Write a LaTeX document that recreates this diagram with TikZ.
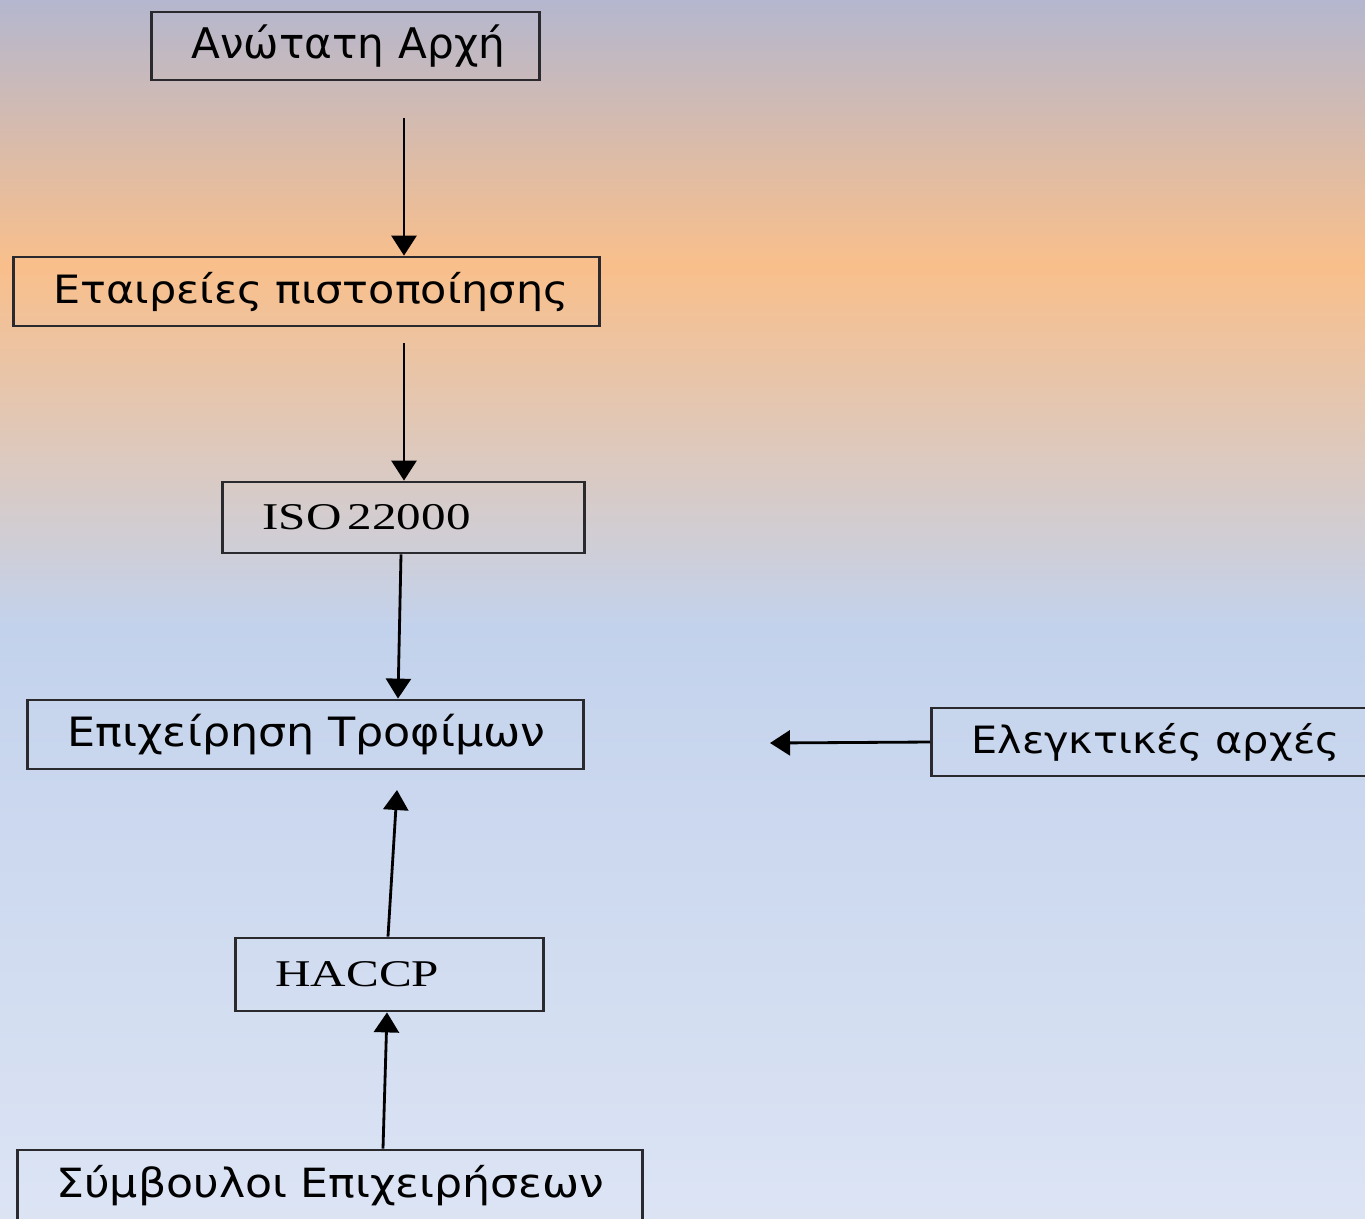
\documentclass[tikz,border=0pt]{standalone}
\usepackage{fontspec}
\setmainfont{DejaVu Sans}
\newfontfamily\widesans[FakeStretch=1.1]{DejaVu Sans}
\newfontfamily\widetimes[FakeStretch=1.3]{Liberation Serif}
\usepackage{tikz}
\usetikzlibrary{arrows.meta, positioning, calc}
\definecolor{bgtop}{HTML}{B4B7CF}
\definecolor{bgorange}{HTML}{F9BF8B}
\definecolor{bgblue}{HTML}{C3D2EC}
\definecolor{bgbot}{HTML}{DCE4F4}
\definecolor{edge}{HTML}{2A2A2E}
\pgfdeclareverticalshading{skybg}{100bp}{color(0bp)=(bgbot); color(25bp)=(bgbot);
  color(49.3bp)=(bgblue); color(64.1bp)=(bgorange); color(75bp)=(bgtop); color(100bp)=(bgtop)}
\tikzset{
  box/.style={draw=edge, line width=1.6pt, anchor=west, align=left, inner xsep=0.8cm, inner ysep=0pt,
    execute at begin node={\hbox\bgroup}, execute at end node={\egroup}},
  arr/.style={-{Triangle[length=0.4cm, width=0.5cm]}, line width=1.6pt, draw=black}
}

\begin{document}
\begin{tikzpicture}[x=0.02cm, y=-0.02cm]
  % Φόντο
  \useasboundingbox (0,0) rectangle (1365,1218);
  \clip (0,0) rectangle (1365,1218);
  \fill[shading=skybg] (0,0) rectangle (1365,1218);

  % Κουτιά
  \node[box, text width=6.16cm, minimum height=1.36cm, font=\fontsize{24}{28}\selectfont] (top) at (150,46) {Ανώτατη Αρχή};
  \node[box, text width=10.12cm, minimum height=1.38cm, font=\widesans\fontsize{22.2}{26}\selectfont] (cert) at (12,291.5) {Εταιρείες πιστοποίησης};
  \node[box, text width=5.64cm, minimum height=1.42cm, font=\widetimes\fontsize{21.5}{26}\selectfont] (iso) at (221,517.5) {ISO\,22000};
  \node[box, text width=9.52cm, minimum height=1.38cm, font=\widesans\fontsize{23}{27}\selectfont] (food) at (26,734.5) {Επιχείρηση Τροφίμων};
  \node[box, text width=7.3cm, minimum height=1.36cm, font=\widesans\fontsize{21.4}{25}\selectfont] (ctrl) at (930,742) {Ελεγκτικές αρχές};
  \node[box, text width=4.56cm, minimum height=1.46cm, font=\widetimes\fontsize{21.5}{26}\selectfont] (haccp) at (234,974.5) {HACCP};
  \node[box, inner xsep=0.78cm, text width=10.94cm, minimum height=1.44cm, font=\widesans\fontsize{22.9}{27}\selectfont] (cons) at (16,1186) {Σύμβουλοι Επιχειρήσεων};

  % Ελεύθερα άκρα
  \coordinate (t1) at (404,118);
  \coordinate (t2) at (404,343);
  \coordinate (t3) at (397,790);
  \coordinate (t4) at (770,743);

  % Βέλη
  \draw[arr] (t1) -- (t1 |- cert.north);
  \draw[arr] (t2) -- (t2 |- iso.north);
  \draw[arr] ($(iso.south west)+(180,0)$) -- ($(food.north west)+(372,0)$);
  \draw[arr] ($(haccp.north west)+(154,0)$) -- (t3);
  \draw[arr] ($(cons.north west)+(367,0)$) -- ($(haccp.south west)+(153,0)$);
  \draw[arr] (ctrl.west) -- (t4);
\end{tikzpicture}
\end{document}
